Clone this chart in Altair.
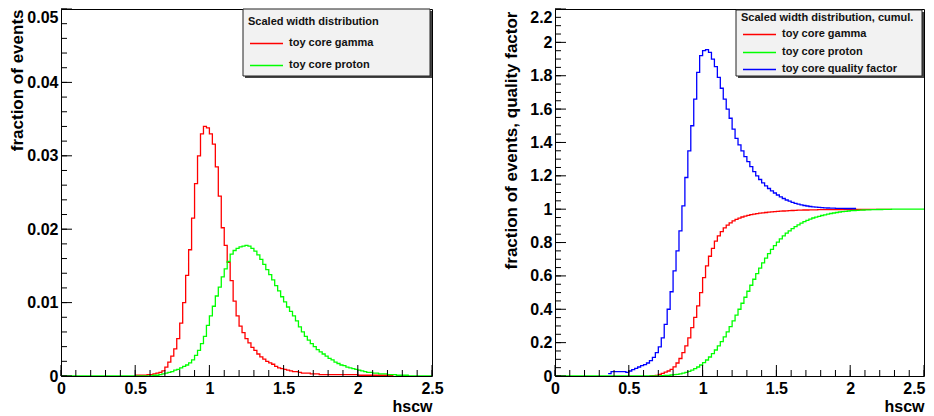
import altair as alt
import pandas as pd
import numpy as np

BIN = 0.02
FONT = "Liberation Sans"

# ---------------- left panel: scaled width distribution ----------------
gamma_start = 0.50
gamma_vals = [
    0.0001, 0.0001, 0.0001, 0.0001, 0.0002, 0.0002, 0.0003, 0.0004, 0.0005, 0.0007,
    0.0012, 0.0019, 0.0027, 0.0037, 0.0051, 0.0072, 0.0100, 0.0137, 0.0172, 0.0215,
    0.0262, 0.0300, 0.0330, 0.0340, 0.0338, 0.0330, 0.0316, 0.0285, 0.0245, 0.0202,
    0.0178, 0.0155, 0.0130, 0.0102, 0.0082, 0.0068, 0.0059, 0.0051, 0.0045, 0.0039,
    0.0035, 0.0030, 0.0026, 0.0023, 0.0020, 0.0018, 0.0016, 0.0013, 0.0011, 0.0010,
    0.0009, 0.0008, 0.0007, 0.0006, 0.0006, 0.0005, 0.0004, 0.0004, 0.0004, 0.0003,
    0.0003, 0.0003, 0.0002, 0.0002, 0.0002, 0.0002, 0.0002, 0.0002, 0.0002, 0.0002,
    0.0002, 0.0002, 0.0002, 0.0002, 0.0002, 0.0001, 0.0001, 0.0001, 0.0001, 0.0001,
    0.0001, 0.0001, 0.0001, 0.0001, 0.0001, 0.0001, 0.0001,
]
proton_start = 0.0
proton_vals = [0.0] * 31 + [
    0.0001, 0.0001, 0.0002, 0.0003, 0.0004, 0.0005, 0.0006, 0.0008, 0.0009, 0.0011,
    0.0013, 0.0015, 0.0018, 0.0022, 0.0028, 0.0035, 0.0044, 0.0054, 0.0069, 0.0082,
    0.0095, 0.0109, 0.0121, 0.0135, 0.0146, 0.0156, 0.0166, 0.0171, 0.0174, 0.0176,
    0.0177, 0.0178, 0.0177, 0.0174, 0.0170, 0.0165, 0.0159, 0.0152, 0.0145, 0.0138,
    0.0131, 0.0123, 0.0116, 0.0108, 0.0101, 0.0094, 0.0088, 0.0082, 0.0075, 0.0067,
    0.0060, 0.0054, 0.0049, 0.0044, 0.0040, 0.0036, 0.0033, 0.0030, 0.0027, 0.0024,
    0.0022, 0.0019, 0.0017, 0.0015, 0.0014, 0.0012, 0.0011, 0.0010, 0.0009, 0.0008,
    0.0007, 0.0006, 0.0005, 0.0005, 0.0004, 0.0004, 0.0003, 0.0003, 0.0003, 0.0002,
    0.0002, 0.0002, 0.0001, 0.0001, 0.0001, 0.0001,
]
proton_vals = proton_vals + [0.0] * (125 - len(proton_vals))

# ---------------- right panel: cumulative + quality factor ----------------
gamma_cum_start = 0.64
gamma_cum_vals = [
    0.001, 0.002, 0.004, 0.009, 0.016, 0.023, 0.030, 0.040, 0.055, 0.078,
    0.105, 0.140, 0.180, 0.228, 0.290, 0.352, 0.420, 0.500, 0.590, 0.660,
    0.718, 0.765, 0.808, 0.840, 0.866, 0.888, 0.905, 0.918, 0.930, 0.939,
    0.946, 0.953, 0.958, 0.963, 0.967, 0.970, 0.973, 0.976, 0.978, 0.980,
    0.982, 0.984, 0.985, 0.987, 0.988, 0.989, 0.990, 0.991, 0.992, 0.993,
    0.994, 0.994, 0.995, 0.995, 0.996, 0.996, 0.996, 0.997, 0.997, 0.997,
    0.997, 0.997, 0.997, 0.998, 0.998, 0.998, 0.998, 0.998, 0.998, 0.998,
    0.998, 0.998, 0.998, 0.999, 0.999, 0.999, 0.999, 0.999, 0.999, 0.999,
    0.999, 0.999,
]
proton_cum_start = 0.0
proton_cum_vals = [0.0] * 35 + [
    0.001, 0.002, 0.003, 0.004, 0.006, 0.008, 0.010, 0.013, 0.017, 0.022,
    0.028, 0.035, 0.044, 0.054, 0.066, 0.080, 0.096, 0.114, 0.134, 0.156,
    0.180, 0.206, 0.234, 0.264, 0.296, 0.330, 0.365, 0.400, 0.436, 0.472,
    0.508, 0.544, 0.580, 0.614, 0.647, 0.678, 0.707, 0.734, 0.759, 0.782,
    0.803, 0.822, 0.840, 0.856, 0.870, 0.883, 0.895, 0.906, 0.916, 0.925,
    0.933, 0.940, 0.947, 0.952, 0.957, 0.962, 0.966, 0.970, 0.974, 0.977,
    0.980, 0.983, 0.985, 0.987, 0.989, 0.991, 0.992, 0.993, 0.994, 0.995,
    0.996, 0.996, 0.997, 0.997, 0.998, 0.998, 0.999, 0.999, 0.999,
]
proton_cum_vals = proton_cum_vals + [1.0] * (125 - len(proton_cum_vals))
qf_start = 0.36
qf_vals = [
    0.014, 0.026, 0.026, 0.026, 0.026, 0.026, 0.022, 0.030, 0.038, 0.046,
    0.054, 0.062, 0.068, 0.078, 0.092, 0.112, 0.140, 0.175, 0.228, 0.310,
    0.400, 0.505, 0.630, 0.750, 0.870, 1.020, 1.190, 1.350, 1.500, 1.660,
    1.820, 1.920, 1.950, 1.957, 1.940, 1.900, 1.855, 1.790, 1.725, 1.660,
    1.600, 1.545, 1.480, 1.425, 1.385, 1.350, 1.315, 1.285, 1.255, 1.225,
    1.200, 1.178, 1.158, 1.140, 1.124, 1.110, 1.097, 1.085, 1.074, 1.064,
    1.055, 1.048, 1.041, 1.035, 1.030, 1.026, 1.022, 1.019, 1.016, 1.014,
    1.012, 1.011, 1.009, 1.008, 1.007, 1.006, 1.006, 1.005, 1.005, 1.005,
    1.004, 1.004, 1.004, 1.004,
]

# ---------------- axis labels / ticks ----------------
x_labels = [0, 0.5, 1, 1.5, 2, 2.5]
x_minor = list(np.round(np.arange(0, 2.501, 0.1), 3))
left_y_labels = [0, 0.01, 0.02, 0.03, 0.04, 0.05]
left_y_minor = list(np.round(np.arange(0, 0.05001, 0.002), 4))
right_y_labels = [0, 0.2, 0.4, 0.6, 0.8, 1, 1.2, 1.4, 1.6, 1.8, 2, 2.2]
right_y_minor = list(np.round(np.arange(0, 2.2001, 0.05), 3))

left_legend_title = "Scaled width distribution"
left_legend_items = [("toy core gamma", "#ff0000"), ("toy core proton", "#00ff00")]
right_legend_title = "Scaled width distribution, cumul."
right_legend_items = [("toy core gamma", "#ff0000"), ("toy core proton", "#00ff00"),
                      ("toy core quality factor", "#0000ff")]

H = 367
WL = 371
WR = 369


def steps(start, vals):
    xs = [round(start + i * BIN, 4) for i in range(len(vals) + 1)]
    ys = list(vals) + [vals[-1]]
    return pd.DataFrame({"x": xs, "y": ys})


def make_panel(W, ymax, y_labels, y_minor, ytitle, series, legend_title, legend_items,
               legend_box, leg_title_y, title_y, entry_ys, right_panel):
    xcond_align = {"condition": {"test": "datum.value >= 2.49", "value": "right"}, "value": "center"} \
        if right_panel else "center"
    xcond_off = {"condition": {"test": "datum.value >= 2.49", "value": 1}, "value": 0} \
        if right_panel else 0
    xaxis = alt.Axis(values=x_labels, format="~g", ticks=False, tickSize=0, domain=False, grid=False,
                     labelFont=FONT, labelFontSize=16, labelFontWeight="bold", labelColor="black",
                     labelPadding=4, labelFlush=False, labelOverlap=False,
                     labelAlign=xcond_align, labelOffset=xcond_off,
                     title="hscw", titleFont=FONT, titleFontSize=16, titleFontWeight="bold",
                     titleColor="black", titleAlign="right", titleBaseline="alphabetic",
                     titleX=W, titleY=35)
    yaxis = alt.Axis(values=y_labels, format="~g", ticks=False, tickSize=0, domain=False, grid=False,
                     labelFont=FONT, labelFontSize=16, labelFontWeight="bold", labelColor="black",
                     labelPadding=3, labelFlush=False, labelOverlap=False,
                     labelBaseline={"condition": {"test": "datum.value >= %g" % (ymax * 0.999),
                                                  "value": "top"}, "value": "middle"},
                     title=ytitle, titleFont=FONT, titleFontSize=17, titleFontWeight="bold",
                     titleColor="black", titleAngle=270, titleAlign="right",
                     titleBaseline="alphabetic", titleX=-38.5, titleY=title_y)
    xs = alt.Scale(domain=[0, 2.5], nice=False, zero=False)
    ys = alt.Scale(domain=[0, ymax], nice=False, zero=True)

    layers = []
    for df, color in series:
        layers.append(alt.Chart(df).mark_line(interpolate="step-after", color=color,
                                              strokeWidth=1.3, clip=True).encode(
            x=alt.X("x:Q", scale=xs, axis=xaxis),
            y=alt.Y("y:Q", scale=ys, axis=yaxis)))

    # inside ticks (ROOT style)
    for vals, length in ((x_labels, 11), (x_minor, 6)):
        layers.append(alt.Chart(pd.DataFrame({"x": vals})).mark_rule(color="black", strokeWidth=1).encode(
            x=alt.X("x:Q", scale=xs, axis=xaxis), y=alt.value(H), y2=alt.value(H - length)))
    for vals, length in ((y_labels, 11), (y_minor, 6)):
        layers.append(alt.Chart(pd.DataFrame({"y": vals})).mark_rule(color="black", strokeWidth=1).encode(
            y=alt.Y("y:Q", scale=ys, axis=yaxis), x=alt.value(0), x2=alt.value(length)))

    # legend box (ROOT TLegend look)
    bx1, bx2, by1, by2 = legend_box
    dummy = pd.DataFrame({"a": [0]})
    layers.append(alt.Chart(dummy).mark_rect(fill="#444444").encode(
        x=alt.value(bx1 + 2), x2=alt.value(bx2 + 2), y=alt.value(by1 + 2), y2=alt.value(by2 + 2)))
    layers.append(alt.Chart(dummy).mark_rect(fill="#f2f2f2", stroke="#222222", strokeWidth=1).encode(
        x=alt.value(bx1), x2=alt.value(bx2), y=alt.value(by1), y2=alt.value(by2)))
    layers.append(alt.Chart(dummy).mark_text(text=legend_title, align="left", baseline="middle", font=FONT,
                                             fontSize=11, fontWeight="bold").encode(
        x=alt.value(bx1 + 5), y=alt.value(leg_title_y), color=alt.value("#111111")))
    for (label, color), ey in zip(legend_items, entry_ys):
        seg = pd.DataFrame({"lab": [label]})
        layers.append(alt.Chart(seg).mark_rule(strokeWidth=1.3).encode(
            x=alt.value(bx1 + 7), x2=alt.value(bx1 + 40), y=alt.value(ey + 0.5),
            color=alt.value(color)))
        layers.append(alt.Chart(seg).mark_text(align="left", baseline="middle", font=FONT,
                                               fontSize=11, fontWeight="bold").encode(
            x=alt.value(bx1 + 46), y=alt.value(ey), text="lab:N", color=alt.value("#111111")))

    return alt.layer(*layers).properties(width=W, height=H)


left = make_panel(
    WL, 0.05, left_y_labels, left_y_minor, "fraction of events",
    [(steps(gamma_start, gamma_vals), "#ff0000"), (steps(proton_start, proton_vals), "#00ff00")],
    left_legend_title, left_legend_items, (182, 369, 0, 67), 12.5, 0, [34, 56], False)

right = make_panel(
    WR, 2.2, right_y_labels, right_y_minor, "fraction of events, quality factor",
    [(steps(gamma_cum_start, gamma_cum_vals), "#ff0000"),
     (steps(proton_cum_start, proton_cum_vals), "#00ff00"),
     (steps(qf_start, qf_vals), "#0000ff")],
    right_legend_title, right_legend_items, (181, 367, 1, 67), 9, 2, [25, 43, 60], True)

chart = alt.hconcat(left, right, spacing=123, bounds="flush").properties(
    padding=0, background="white"
).configure_view(stroke="black", strokeWidth=1)

chart.save("out.html", embed_options={"renderer": "svg", "actions": False})
